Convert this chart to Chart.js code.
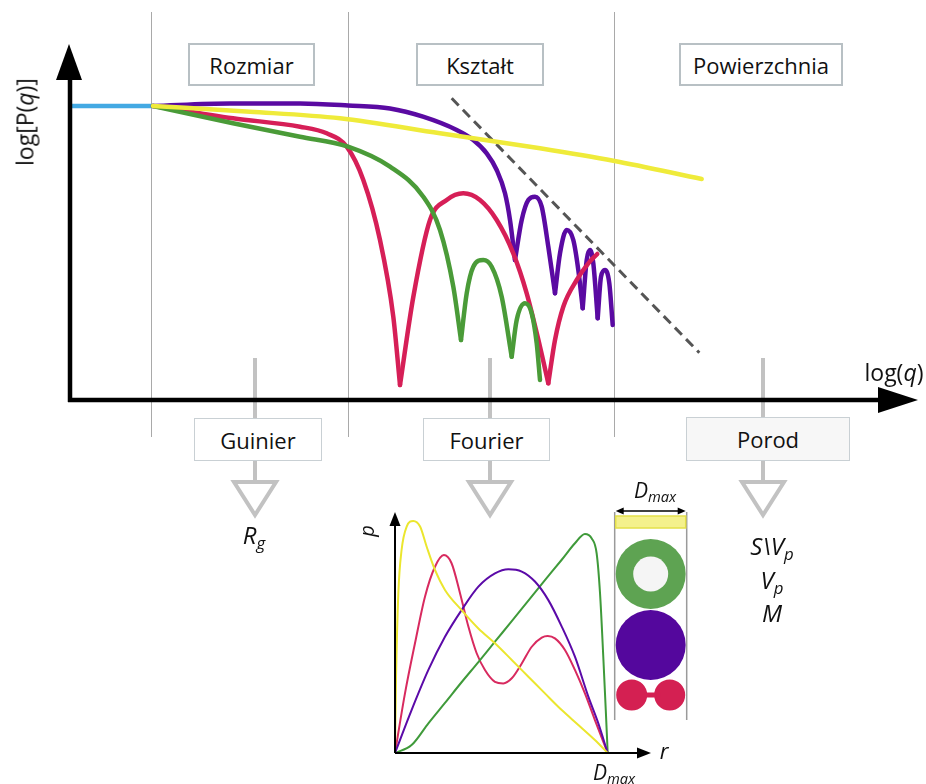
<!DOCTYPE html>
<html>
<head>
<meta charset="utf-8">
<script src="https://cdn.jsdelivr.net/npm/chart.js@4/dist/chart.umd.min.js"></script>
<style>
  html, body { margin: 0; padding: 0; background: #fff; }
  #wrap { position: relative; width: 926px; height: 784px; overflow: hidden; font-family: "Open Sans", sans-serif; color: #111; }
  #chart { position: absolute; left: 0; top: 0; }
  .box { position: absolute; box-sizing: border-box; background: #fff; border: 2px solid #b8c0c4;
         display: flex; align-items: center; justify-content: center; font-size: 22px; }
  .box.low { border: 1.5px solid #c9d0d4; }
  .lbl { position: absolute; white-space: nowrap; transform: translate(-50%, -50%); line-height: 1; }
  .m { font-style: italic; font-size: 24px; }
  .m sub { font-size: 70%; vertical-align: -0.3em; }
</style>
</head>
<body>
<div id="wrap">
  <canvas id="chart" width="926" height="784"></canvas>

  <div class="lbl" style="left:25px;top:122px;font-size:23px;transform:translate(-50%,-50%) rotate(-90deg);">log[P(<i>q</i>)]</div>
  <div class="lbl" style="left:894px;top:372px;font-size:23px;">log(<i>q</i>)</div>

  <div class="box" style="left:188px;top:43px;width:127px;height:43px;">Rozmiar</div>
  <div class="box" style="left:416px;top:43px;width:128px;height:43px;">Kształt</div>
  <div class="box" style="left:679px;top:43px;width:164px;height:43px;">Powierzchnia</div>

  <div class="box low" style="left:194px;top:418px;width:128px;height:43px;">Guinier</div>
  <div class="box low" style="left:423px;top:418px;width:127px;height:43px;">Fourier</div>
  <div class="box low" style="left:686px;top:417px;width:164px;height:44px;background:#f7f7f7;">Porod</div>

  <div class="lbl m" style="left:254px;top:537px;">R<sub>g</sub></div>
  <div class="lbl m" style="left:772px;top:548px;">S\V<sub>p</sub></div>
  <div class="lbl m" style="left:772px;top:582px;">V<sub>p</sub></div>
  <div class="lbl m" style="left:772px;top:613px;">M</div>

  <div class="lbl m" style="left:655px;top:492px;font-size:21px;">D<sub>max</sub></div>
  <div class="lbl m" style="left:614px;top:774px;font-size:21px;">D<sub>max</sub></div>
  <div class="lbl m" style="left:664px;top:750px;font-size:22px;">r</div>
  <div class="lbl m" style="left:367px;top:531px;font-size:20px;transform:translate(-50%,-50%) rotate(-90deg);">p</div>
</div>

<script>
// main plot: log P(q) against log q (arbitrary units)
const baseQ = [0.2, 8.3];
const baseLogP = [29.4, 29.4];

const sphereQ = [8.3, 16, 23, 27.8, 32, 35.3, 38.67, 40.33, 41.67, 42.67, 43.5, 44, 44.5, 45.17, 45.83, 46.5,
  47.17, 47.83, 48.5, 49, 49.67, 50.33, 50.83, 51.27, 51.67, 52, 52.33, 52.77, 53.1, 53.5, 53.93, 54.27];
const sphereLogP = [29.4, 29.65, 29.65, 29.45, 29.15, 28.33, 27, 26, 24.67, 23, 20.67, 18, 14, 18, 20, 20.33,
  19.33, 15.33, 10.67, 14.67, 17, 16, 13, 9.17, 14, 15, 13.67, 8.17, 12.33, 13, 11.67, 7.5];

const shellQ = [8.3, 16.3, 23, 27.8, 32, 35.33, 37, 38.33, 39.1, 39.67, 40.33, 41.33, 42.17, 43.17, 44.17,
  44.67, 45.5, 46.17, 46.67, 47];
const shellLogP = [29.4, 27.67, 26.33, 25.33, 23.33, 20.33, 17, 11.33, 6, 10.67, 13.33, 14, 13.33, 10.33, 4.33,
  8, 9.67, 8.67, 5.67, 2];

const dumbbellQ = [8.3, 16.3, 23, 25.67, 27.67, 29.33, 31, 32.33, 33, 34.33, 36, 37.67, 39.33, 41, 42.67, 44.33,
  45.67, 47, 47.83, 48.5, 49.33, 50.67, 51.83, 52.73];
const dumbbellLogP = [29.4, 28.17, 27.33, 26.67, 25.33, 22, 16, 8.33, 1.5, 10.3, 18, 20, 20.67, 20, 18, 14.67,
  10.67, 5.33, 1.67, 6, 9.33, 12, 13.67, 14.6];

const rodQ = [8.3, 18, 27, 37, 47, 54.33, 63.17];
const rodLogP = [29.4, 28.83, 28.17, 26.67, 25.17, 23.93, 22.1];

const porodQ = [38.17, 62.93];
const porodLogP = [30.17, 4.73];

// q-range boundaries and where each analysis method sits
const regionBounds = [8.1, 27.8, 54.4];
const methodQ = [18.5, 42, 69.3];

// inset: p(r), r in units of Dmax
const rodR = [0, 0.005, 0.0157, 0.031, 0.055, 0.086, 0.118, 0.149, 0.188, 0.235, 0.313, 0.392, 0.47, 0.549,
  0.627, 0.705, 0.784, 0.862, 0.94, 1];
const rodPr = [0, 0.329, 0.688, 0.875, 0.976, 1.0, 0.976, 0.889, 0.789, 0.703, 0.616, 0.537, 0.473, 0.401,
  0.329, 0.257, 0.185, 0.121, 0.056, 0];

const dumbbellR = [0, 0.047, 0.094, 0.141, 0.188, 0.23, 0.266, 0.306, 0.345, 0.384, 0.423, 0.47, 0.509, 0.549,
  0.596, 0.643, 0.69, 0.718, 0.752, 0.799, 0.846, 0.893, 0.94, 1];
const dumbbellPr = [0, 0.257, 0.473, 0.674, 0.803, 0.853, 0.818, 0.688, 0.545, 0.43, 0.358, 0.307, 0.3, 0.322,
  0.386, 0.458, 0.497, 0.504, 0.494, 0.444, 0.358, 0.257, 0.142, 0];

const sphereR = [0, 0.078, 0.157, 0.235, 0.313, 0.392, 0.47, 0.533, 0.596, 0.658, 0.721, 0.784, 0.846, 0.909,
  0.956, 1];
const spherePr = [0, 0.185, 0.358, 0.501, 0.616, 0.717, 0.774, 0.792, 0.782, 0.739, 0.659, 0.545, 0.415, 0.243,
  0.128, 0];

const shellR = [0, 0.078, 0.157, 0.235, 0.313, 0.392, 0.47, 0.549, 0.627, 0.705, 0.784, 0.846, 0.893, 0.925,
  0.948, 0.964, 0.98, 0.991, 1];
const shellPr = [0, 0.034, 0.128, 0.216, 0.305, 0.392, 0.48, 0.568, 0.657, 0.745, 0.833, 0.904, 0.944, 0.925,
  0.861, 0.688, 0.401, 0.185, 0];

const COLORS = {
  base: '#43a9e3', sphere: '#5a0aa2', shell: '#4a9b38', dumbbell: '#d61f57', rod: '#efeb3a'
};

function pts(xs, ys) {
  return xs.map((x, i) => ({ x: x, y: ys[i] }));
}

// split a scattering curve at its minima so every minimum stays a sharp cusp
function lobes(xs, ys) {
  const cuts = [0];
  for (let i = 1; i < ys.length - 1; i++) {
    if (ys[i] < ys[i - 1] && ys[i] < ys[i + 1]) cuts.push(i);
  }
  cuts.push(ys.length - 1);
  const out = [];
  for (let k = 0; k < cuts.length - 1; k++) {
    out.push(pts(xs.slice(cuts[k], cuts[k + 1] + 1), ys.slice(cuts[k], cuts[k + 1] + 1)));
  }
  return out;
}

function mainSets(label, xs, ys, color) {
  return lobes(xs, ys).map((data, i) => ({
    label: label + ' ' + i, data: data, borderColor: color, borderWidth: 4.5,
    pointRadius: 0, cubicInterpolationMode: 'monotone', fill: false,
    borderCapStyle: 'round', borderJoinStyle: 'round', xAxisID: 'x', yAxisID: 'y'
  }));
}

function insetSet(label, xs, ys, color) {
  return {
    label: label, data: pts(xs, ys), borderColor: color, borderWidth: 2,
    pointRadius: 0, cubicInterpolationMode: 'monotone', fill: false, xAxisID: 'x2', yAxisID: 'y2'
  };
}

function line(ctx, x1, y1, x2, y2) {
  ctx.beginPath();
  ctx.moveTo(x1, y1);
  ctx.lineTo(x2, y2);
  ctx.stroke();
}

function head(ctx, tipX, tipY, dx, dy, len, half) {
  // filled arrow head pointing along (dx, dy)
  ctx.beginPath();
  ctx.moveTo(tipX, tipY);
  ctx.lineTo(tipX - dx * len - dy * half, tipY - dy * len + dx * half);
  ctx.lineTo(tipX - dx * len + dy * half, tipY - dy * len - dx * half);
  ctx.closePath();
  ctx.fill();
}

const decor = {
  id: 'decor',
  beforeDatasetsDraw(chart) {
    const ctx = chart.ctx, x = chart.scales.x, y = chart.scales.y;
    ctx.save();
    ctx.strokeStyle = '#a9a9a9';
    ctx.lineWidth = 1;
    regionBounds.forEach(b => {
      const px = Math.round(x.getPixelForValue(b)) + 0.5;
      line(ctx, px, y.getPixelForValue(38.8), px, y.getPixelForValue(-3.7));
    });
    ctx.restore();
  },
  afterDatasetsDraw(chart) {
    const ctx = chart.ctx, x = chart.scales.x, y = chart.scales.y;
    const x2 = chart.scales.x2, y2 = chart.scales.y2;
    ctx.save();

    // grey method connectors
    ctx.strokeStyle = '#c2c2c2';
    ctx.lineWidth = 4;
    methodQ.forEach(q => {
      const px = x.getPixelForValue(q);
      line(ctx, px, 358, px, 482);
      ctx.beginPath();
      ctx.moveTo(px - 21, 482);
      ctx.lineTo(px + 21, 482);
      ctx.lineTo(px, 515);
      ctx.closePath();
      ctx.fillStyle = '#fff';
      ctx.fill();
      ctx.stroke();
    });

    // main axes
    const ox = x.getPixelForValue(0), oy = y.getPixelForValue(0);
    ctx.strokeStyle = '#000';
    ctx.fillStyle = '#000';
    ctx.lineWidth = 4.5;
    line(ctx, ox, oy + 2, ox, 72);
    line(ctx, ox - 2, oy, 880, oy);
    head(ctx, ox - 1, 44, 0, -1, 36, 13);
    head(ctx, 918, oy, 1, 0, 40, 13);

    // inset axes
    const ix = x2.getPixelForValue(0), iy = y2.getPixelForValue(0);
    ctx.lineWidth = 2;
    line(ctx, ix, iy, ix, 524);
    line(ctx, ix, iy, 638, iy);
    head(ctx, ix, 512, 0, -1, 14, 5.5);
    head(ctx, 651, iy, 1, 0, 14, 5.5);

    // particle shapes column
    const cl = x2.getPixelForValue(1) + 7, cr = cl + 72, cx = (cl + cr) / 2;
    ctx.strokeStyle = '#9a9a9a';
    ctx.lineWidth = 1.5;
    line(ctx, cl, 512, cl, 720);
    line(ctx, cr, 512, cr, 720);
    ctx.strokeStyle = '#000';
    ctx.fillStyle = '#000';
    ctx.lineWidth = 1.5;
    line(ctx, cl + 6, 511, cr - 6, 511);
    head(ctx, cl + 1, 511, -1, 0, 8, 3.5);
    head(ctx, cr - 1, 511, 1, 0, 8, 3.5);

    ctx.fillStyle = '#f4f18c';
    ctx.strokeStyle = '#e4e04a';
    ctx.lineWidth = 1.5;
    ctx.fillRect(cl + 1, 516, 70, 12);
    ctx.strokeRect(cl + 1, 516, 70, 12);

    ctx.fillStyle = '#5ea352';
    ctx.beginPath();
    ctx.arc(cx, 574, 35, 0, Math.PI * 2);
    ctx.fill();
    ctx.fillStyle = '#f5f5f5';
    ctx.beginPath();
    ctx.arc(cx, 574, 17.5, 0, Math.PI * 2);
    ctx.fill();

    ctx.fillStyle = '#54079d';
    ctx.beginPath();
    ctx.arc(cx, 645, 35, 0, Math.PI * 2);
    ctx.fill();

    ctx.fillStyle = '#d42052';
    ctx.beginPath();
    ctx.arc(cx - 19, 695, 15.5, 0, Math.PI * 2);
    ctx.arc(cx + 19, 695, 15.5, 0, Math.PI * 2);
    ctx.fill();
    ctx.fillRect(cx - 10, 692.5, 20, 5);

    ctx.restore();
  }
};

new Chart(document.getElementById('chart'), {
  type: 'line',
  data: {
    datasets: [].concat(
      mainSets('rod', rodQ, rodLogP, COLORS.rod),
      mainSets('shell', shellQ, shellLogP, COLORS.shell),
      mainSets('dumbbell', dumbbellQ, dumbbellLogP, COLORS.dumbbell),
      mainSets('sphere', sphereQ, sphereLogP, COLORS.sphere),
      mainSets('base', baseQ, baseLogP, COLORS.base),
      [{
        label: 'porod', data: pts(porodQ, porodLogP), borderColor: '#555', borderWidth: 3,
        borderDash: [10, 6], pointRadius: 0, fill: false, xAxisID: 'x', yAxisID: 'y'
      }],
      [
        insetSet('rod p(r)', rodR, rodPr, '#ebe62e'),
        insetSet('sphere p(r)', sphereR, spherePr, '#5b0aa8'),
        insetSet('shell p(r)', shellR, shellPr, '#3f9a3a'),
        insetSet('dumbbell p(r)', dumbbellR, dumbbellPr, '#d82a5f')
      ]
    )
  },
  options: {
    responsive: false,
    animation: false,
    devicePixelRatio: 1,
    layout: { padding: 0 },
    plugins: { legend: { display: false }, tooltip: { enabled: false }, title: { display: false } },
    scales: {
      x: { type: 'linear', display: false, min: -7, max: 85.6 },
      y: { type: 'linear', display: false, min: -38.4, max: 40 },
      x2: { type: 'linear', display: false, min: -1.857, max: 2.4965 },
      y2: { type: 'linear', display: false, min: -0.1336, max: 3.2457 }
    }
  },
  plugins: [decor]
});
</script>
</body>
</html>
